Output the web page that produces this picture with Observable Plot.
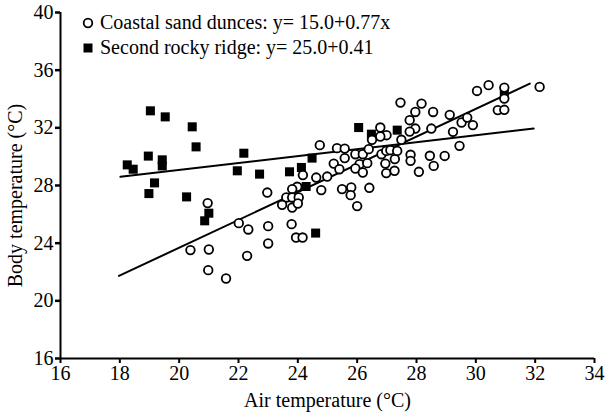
<!DOCTYPE html>
<html>
<head>
<meta charset="utf-8">
<script src="https://cdn.jsdelivr.net/npm/d3@7"></script>
<script src="https://cdn.jsdelivr.net/npm/@observablehq/plot@0.6"></script>
<style>
  html, body { margin: 0; padding: 0; background: #fff; }
  #wrap { position: relative; width: 605px; height: 417px; font-family: "Liberation Serif", "Times New Roman", serif; }
  #wrap svg text { font-family: "Liberation Serif", "Times New Roman", serif !important; font-variant-numeric: normal !important; }
  #legend { position: absolute; left: 82px; top: 10px; font-size: 20px; line-height: 25px; color: #000; }
  #legend .row { display: flex; align-items: center; white-space: nowrap; }
  #legend svg { margin-right: 6px; }
</style>
</head>
<body>
<div id="wrap"><div id="legend"></div></div>
<script>
// Coastal sand dunes (open circles)
const sandX = [20.38,21.0,20.98,21.58,20.96,22.01,22.33,22.29,22.97,23.0,23.0,23.79,23.94,24.16,23.98,23.81,23.61,23.81,24.03,23.47,23.81,24.0,24.17,24.62,24.99,24.74,24.79,25.32,25.58,25.58,25.21,25.4,25.49,25.8,25.78,26.0,26.41,25.94,26.19,26.39,26.5,26.78,26.99,26.78,26.08,26.34,25.94,26.19,26.82,26.98,27.12,27.27,27.35,26.95,26.98,27.26,27.46,28.17,27.96,27.77,28.56,27.96,27.77,28.5,27.49,27.8,27.8,28.45,28.58,28.08,29.12,28.95,29.52,29.71,29.9,29.23,29.45,30.04,30.43,30.96,30.96,30.74,30.96,32.15];
const sandY = [23.52,23.56,22.13,21.55,26.78,25.39,24.95,23.12,27.51,25.18,23.98,25.32,24.39,24.39,27.91,27.75,27.17,27.17,27.17,26.66,26.47,26.75,28.72,28.55,28.62,30.8,27.68,30.59,30.56,29.9,29.52,29.13,27.75,27.86,27.33,26.57,27.84,30.17,30.17,30.52,31.17,32.02,31.49,31.4,29.48,29.55,29.18,28.9,30.17,30.4,30.45,29.83,30.4,29.52,28.86,29.02,33.75,33.68,33.1,32.53,33.1,31.95,31.74,31.95,31.17,30.13,29.71,30.06,29.36,28.95,32.9,30.05,32.37,32.71,32.19,31.72,30.75,34.56,34.96,34.79,34.03,33.23,33.25,34.84];

// Second rocky ridge (filled squares)
const rockX = [19.03,19.53,20.44,20.57,18.96,19.43,19.43,18.25,18.45,19.17,18.98,20.25,21.0,20.86,22.18,21.96,22.71,23.72,24.12,24.48,24.28,24.6,26.05,26.48,27.35,30.96];
const rockY = [33.18,32.76,32.07,30.68,30.04,29.78,29.36,29.43,29.13,28.18,27.44,27.21,26.08,25.55,30.24,29.02,28.79,28.95,29.25,29.9,27.93,24.7,32.02,31.56,31.84,34.4];

// Regression line end points
const sandLineX = [17.97, 31.82];
const sandLineY = [21.73, 35.07];
const rockLineX = [18.02, 31.95];
const rockLineY = [28.6, 31.95];

// Axes
const xTicks = [16,18,20,22,24,26,28,30,32,34];
const yTicks = [16,20,24,28,32,36,40];
const xLabel = "Air temperature (°C)";
const yLabel = "Body temperature (°C)";

// Legend
const legendLabels = ["Coastal sand dunces: y= 15.0+0.77x", "Second rocky ridge: y= 25.0+0.41"];

const serif = "'Liberation Serif', 'Times New Roman', serif";
const sand = sandX.map((x, i) => ({x, y: sandY[i]}));
const rock = rockX.map((x, i) => ({x, y: rockY[i]}));
const sandLine = sandLineX.map((x, i) => ({x, y: sandLineY[i]}));
const rockLine = rockLineX.map((x, i) => ({x, y: rockLineY[i]}));

const chart = Plot.plot({
  width: 605,
  height: 417,
  marginLeft: 60,
  marginRight: 11,
  marginTop: 12,
  marginBottom: 59,
  style: {fontFamily: serif, fontSize: "20px", color: "#000", background: "#fff"},
  x: {domain: [16, 34]},
  y: {domain: [16, 40]},
  marks: [
    Plot.axisX(xTicks, {tickSize: 5, tickPadding: 2, strokeWidth: 2, fontSize: 20, fontFamily: serif, label: xLabel, labelAnchor: "center", labelArrow: "none", labelOffset: 48}),
    Plot.axisY(yTicks, {tickSize: 5, tickPadding: 2, strokeWidth: 2.5, fontSize: 20, fontFamily: serif, label: null}),
    Plot.text([yLabel], {text: d => d, frameAnchor: "left", textAnchor: "middle", lineAnchor: "middle", rotate: -90, dx: -45, dy: 10, fontSize: 20, fontFamily: serif, fill: "#000"}),
    Plot.ruleX([16], {strokeWidth: 2}),
    Plot.ruleY([16], {strokeWidth: 2}),
    Plot.line(sandLine, {x: "x", y: "y", stroke: "#000", strokeWidth: 2}),
    Plot.line(rockLine, {x: "x", y: "y", stroke: "#000", strokeWidth: 2}),
    Plot.dot(rock, {x: "x", y: "y", symbol: "square", r: 5.1, fill: "#000", stroke: "none"}),
    Plot.dot(sand, {x: "x", y: "y", r: 4.3, fill: "#fff", stroke: "#000", strokeWidth: 1.8})
  ]
});
document.getElementById("wrap").prepend(chart);

// HTML legend
const legend = d3.select("#legend");
const symbols = ["circle", "square"];
legendLabels.forEach((lab, i) => {
  const row = legend.append("div").attr("class", "row");
  const s = row.append("svg").attr("width", 12).attr("height", 12);
  if (symbols[i] === "circle") {
    s.append("circle").attr("cx", 6).attr("cy", 6).attr("r", 4.3).attr("fill", "#fff").attr("stroke", "#000").attr("stroke-width", 1.8);
  } else {
    s.append("rect").attr("x", 1.5).attr("y", 1.5).attr("width", 9).attr("height", 9).attr("fill", "#000");
  }
  row.append("span").text(lab);
});
</script>
</body>
</html>
